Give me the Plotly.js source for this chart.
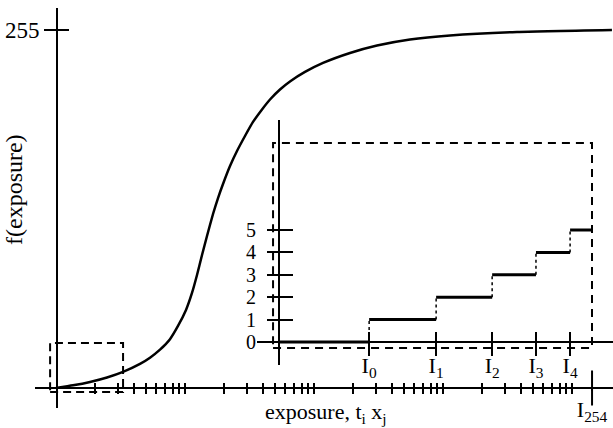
<!DOCTYPE html>
<html><head><meta charset="utf-8">
<script src="https://cdn.plot.ly/plotly-3.0.1.min.js"></script>
<style>html,body{margin:0;padding:0;background:#fff}#chart{width:613px;height:428px}</style>
</head><body><div id="chart"></div>
<script>
// ---- Main response curve f(exposure) ----
const EXPOSURE   = [1, 1.355, 1.835, 2.485, 3.307, 4.479, 5.354, 6.401, 7.650, 8.826, 10.18, 11.33, 12.39, 13.55, 14.81, 16.49, 18.03, 19.71, 22.33, 25.30, 29.18, 33.66, 39.54, 45.60, 54.50, 65.16, 85.15, 117.5, 190.1, 307.9, 554.9, 1133, 3747, 20400];
const F_EXPOSURE = [0, 1.9, 4.3, 7.5, 11.5, 17.2, 21.6, 27.3, 34.8, 44.2, 55.6, 67.7, 80.5, 94.7, 108.3, 123.9, 135.3, 145.3, 158.1, 168.8, 179.5, 189.5, 198.4, 205.5, 212.6, 218.3, 225.1, 231.5, 238.6, 243.9, 248.2, 251.1, 253.6, 255];
const MAIN_X_TICKS = [2,3,4,5,6,7,8,9,10, 20,30,40,50,60,70,80,90,100, 200,300,400,500,600,700,800,900,1000, 2000,3000,4000,5000,6000,7000,8000,9000,10000];
const I254 = 14300;
const I254_LABEL = 'I<sub>254</sub>';
const Y_TICKS = [255];
const Y_TICK_LABELS = ['255'];
const ZOOM_BOX_X = [0.9, 3.31];
const ZOOM_BOX_Y = [-2.85, 32];

// ---- Inset: quantised steps ----
const INSET_THRESHOLDS = [2.88, 5.02, 6.81, 8.21, 9.30];
const INSET_LABELS = ['I<sub>0</sub>', 'I<sub>1</sub>', 'I<sub>2</sub>', 'I<sub>3</sub>', 'I<sub>4</sub>'];
const INSET_LEVELS = [0, 1, 2, 3, 4, 5];
const INSET_START = 0;
const INSET_END = 10;
const INSET_BOX_X = [-0.19, 10];
const INSET_BOX_Y = [-0.27, 8.88];

const X_TITLE = 'exposure, t<sub>i</sub> x<sub>j</sub>';
const Y_TITLE = 'f(exposure)';

const W = 613, H = 428;
const FONT = 'Liberation Serif, Times New Roman, serif';
const BLACK = '#000';

// steps built from thresholds
const starts = [INSET_START].concat(INSET_THRESHOLDS);
const ends = INSET_THRESHOLDS.concat([INSET_END]);
const stepX = [], stepY = [], riseX = [], riseY = [];
INSET_LEVELS.forEach((lv, i) => {
  stepX.push(starts[i], ends[i], null); stepY.push(lv, lv, null);
});
INSET_THRESHOLDS.forEach((t, i) => {
  riseX.push(t, t, null); riseY.push(INSET_LEVELS[i], INSET_LEVELS[i + 1], null);
});

const traces = [
  {x: EXPOSURE, y: F_EXPOSURE, xaxis: 'x', yaxis: 'y', mode: 'lines',
   line: {color: BLACK, width: 2.5, shape: 'spline', smoothing: 0.5}, hoverinfo: 'skip'},
  {x: [I254], y: [0], xaxis: 'x', yaxis: 'y', mode: 'markers', cliponaxis: false,
   marker: {symbol: 'line-ns', size: 25, line: {color: BLACK, width: 2}}, hoverinfo: 'skip'},
  {x: [], y: [], xaxis: 'x3', yaxis: 'y', mode: 'lines', hoverinfo: 'skip'},
  {x: [], y: [], xaxis: 'x6', yaxis: 'y', mode: 'lines', hoverinfo: 'skip'},
  {x: [], y: [], xaxis: 'x', yaxis: 'y3', mode: 'lines', hoverinfo: 'skip'},
  {x: riseX, y: riseY, xaxis: 'x2', yaxis: 'y2', mode: 'lines',
   line: {color: BLACK, width: 1.5, dash: 'dot'}, hoverinfo: 'skip'},
  {x: stepX, y: stepY, xaxis: 'x2', yaxis: 'y2', mode: 'lines',
   line: {color: BLACK, width: 3}, hoverinfo: 'skip'},
  {x: [], y: [], xaxis: 'x4', yaxis: 'y2', mode: 'lines', hoverinfo: 'skip'},
  {x: [], y: [], xaxis: 'x5', yaxis: 'y2', mode: 'lines', hoverinfo: 'skip'},
  {x: [], y: [], xaxis: 'x2', yaxis: 'y4', mode: 'lines', hoverinfo: 'skip'}
];

const tickFont = {family: FONT, size: 22, color: BLACK};
const base = {showgrid: false, zeroline: false, tickcolor: BLACK, tickwidth: 2, tickfont: tickFont, fixedrange: true, tickangle: 0};

const mainXRange = [(35 - 56) / 129, (613 - 56) / 129];
const mainYRange = [(388 - 408) / 1.404, (388 - 8) / 1.404];
const insetXRange = [(257 - 279) / 31.3, (613 - 279) / 31.3];
const insetYRange = [(342 - 365) / 22.4, (342 - 120) / 22.4];
const mainXPos = (H - 388) / H;
const insetXPos = (H - 342) / H;

const layout = {
  width: W, height: H, margin: {l: 0, r: 0, t: 0, b: 0},
  paper_bgcolor: '#fff', plot_bgcolor: 'rgba(0,0,0,0)', showlegend: false,
  font: {family: FONT, color: BLACK},
  xaxis: Object.assign({}, base, {type: 'log', domain: [35 / W, 1], range: mainXRange,
    anchor: 'free', position: mainXPos, showline: true, linecolor: BLACK, linewidth: 2,
    ticks: 'outside', ticklen: 5, tickmode: 'array', tickvals: MAIN_X_TICKS, showticklabels: false}),
  xaxis3: Object.assign({}, base, {type: 'log', overlaying: 'x', range: mainXRange,
    anchor: 'free', position: mainXPos, showline: false,
    ticks: 'inside', ticklen: 5, tickmode: 'array', tickvals: MAIN_X_TICKS, showticklabels: false}),
  xaxis6: Object.assign({}, base, {type: 'log', overlaying: 'x', range: mainXRange,
    anchor: 'free', position: mainXPos, showline: false,
    ticks: 'outside', ticklen: 2, tickmode: 'array', tickvals: [I254], ticktext: [I254_LABEL],
    ticklabelstandoff: 0}),
  yaxis: Object.assign({}, base, {domain: [(H - 408) / H, (H - 8) / H], range: mainYRange,
    anchor: 'free', position: 57 / W, showline: true, linecolor: BLACK, linewidth: 2,
    ticks: 'outside', ticklen: 12, tickmode: 'array', tickvals: Y_TICKS, ticktext: Y_TICK_LABELS,
    ticklabelstandoff: 0, tickfont: {family: FONT, size: 23, color: BLACK}}),
  yaxis3: Object.assign({}, base, {overlaying: 'y', range: mainYRange,
    anchor: 'free', position: 57 / W, showline: false,
    ticks: 'inside', ticklen: 11, tickmode: 'array', tickvals: Y_TICKS, showticklabels: false}),
  xaxis2: Object.assign({}, base, {domain: [257 / W, 1], range: insetXRange,
    anchor: 'free', position: insetXPos, showline: true, linecolor: BLACK, linewidth: 2,
    ticks: 'outside', ticklen: 4, tickmode: 'array', tickvals: INSET_THRESHOLDS, ticktext: INSET_LABELS,
    ticklabelstandoff: 0}),
  xaxis4: Object.assign({}, base, {overlaying: 'x2', range: insetXRange,
    anchor: 'free', position: insetXPos, showline: false,
    ticks: 'inside', ticklen: 10, tickmode: 'array', tickvals: INSET_THRESHOLDS, showticklabels: false}),
  xaxis5: Object.assign({}, base, {overlaying: 'x2', range: insetXRange,
    anchor: 'free', position: insetXPos, showline: false,
    ticks: 'outside', ticklen: 13, tickmode: 'array', tickvals: INSET_THRESHOLDS, showticklabels: false}),
  yaxis2: Object.assign({}, base, {domain: [(H - 365) / H, (H - 120) / H], range: insetYRange,
    anchor: 'free', position: 279 / W, showline: true, linecolor: BLACK, linewidth: 2,
    ticks: 'outside', ticklen: 11, tickmode: 'array', tickvals: INSET_LEVELS,
    ticktext: INSET_LEVELS.map(String), ticklabelstandoff: 7, tickfont: {family: FONT, size: 20, color: BLACK}}),
  yaxis4: Object.assign({}, base, {overlaying: 'y2', range: insetYRange,
    anchor: 'free', position: 279 / W, showline: false,
    ticks: 'inside', ticklen: 13, tickmode: 'array', tickvals: INSET_LEVELS, showticklabels: false}),
  shapes: [
    {type: 'rect', xref: 'x', yref: 'y', x0: ZOOM_BOX_X[0], x1: ZOOM_BOX_X[1], y0: ZOOM_BOX_Y[0], y1: ZOOM_BOX_Y[1],
     line: {color: BLACK, width: 2, dash: '8px,5px'}},
    {type: 'rect', xref: 'x2', yref: 'y2', x0: INSET_BOX_X[0], x1: INSET_BOX_X[1], y0: INSET_BOX_Y[0], y1: INSET_BOX_Y[1],
     line: {color: BLACK, width: 2, dash: '8px,6px'}}
  ],
  annotations: [
    {text: Y_TITLE, xref: 'paper', yref: 'paper', x: 14 / W, y: (H - 190) / H, textangle: -90,
     showarrow: false, xanchor: 'center', yanchor: 'middle', font: {family: FONT, size: 24, color: BLACK}},
    {text: X_TITLE, xref: 'paper', yref: 'paper', x: 326 / W, y: (H - 413) / H,
     showarrow: false, xanchor: 'center', yanchor: 'middle', font: {family: FONT, size: 22, color: BLACK}}
  ]
};

Plotly.newPlot('chart', traces, layout, {displayModeBar: false, staticPlot: true});
</script>
</body></html>
